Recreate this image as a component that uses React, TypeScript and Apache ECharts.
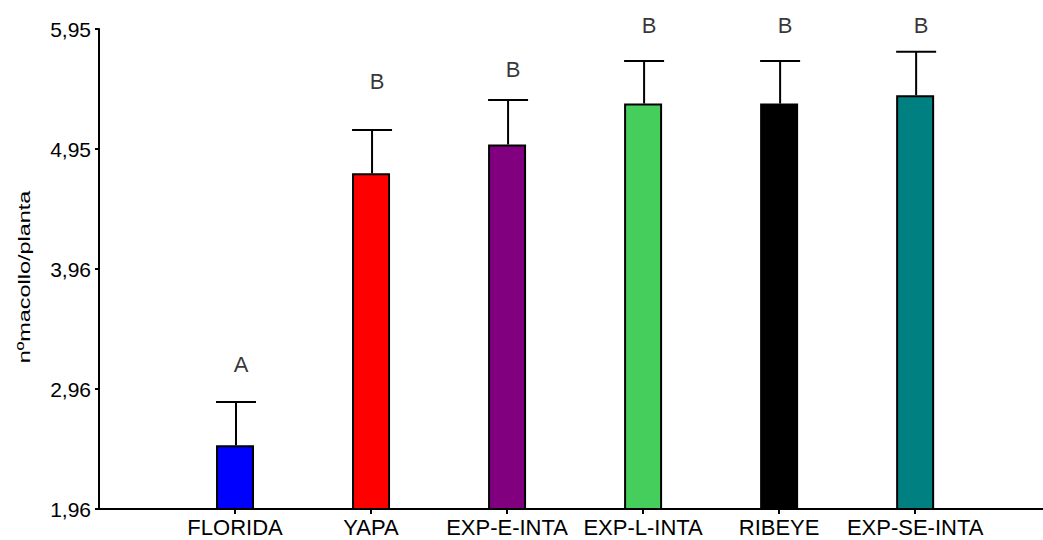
import React, { useEffect, useRef } from "react";
import * as echarts from "echarts";

const categories = ["FLORIDA", "YAPA", "EXP-E-INTA", "EXP-L-INTA", "RIBEYE", "EXP-SE-INTA"];
const means = [2.49, 4.75, 4.99, 5.33, 5.33, 5.40];
const errTops = [2.85, 5.11, 5.36, 5.685, 5.685, 5.76];
const letters = ["A", "B", "B", "B", "B", "B"];
const letterValues = [3.16, 5.51, 5.61, 5.98, 5.98, 5.98];
const barColors = ["#0000FF", "#FF0000", "#800080", "#45CE5B", "#000000", "#008080"];
const yTickValues = [1.96, 2.9575, 3.955, 4.9525, 5.95];
const yTickLabels = ["1,96", "2,96", "3,96", "4,95", "5,95"];
const yTitle = "nºmacollo/planta";
const catPositions = categories.map((_, i) => i + 1);

const FONT = "'Liberation Sans', Arial, sans-serif";

export default function App() {
  const ref = useRef<HTMLDivElement>(null);
  useEffect(() => {
    if (!ref.current) return;
    const chart = echarts.init(ref.current, null, { renderer: "svg" });
    const option: any = {
      animation: false,
      backgroundColor: "#ffffff",
      grid: { left: 99, right: 0, top: 29, bottom: 31, containLabel: false },
      xAxis: {
        type: "value",
        min: 0,
        max: 6.94,
        splitLine: { show: false },
        axisLine: { show: true, onZero: false, lineStyle: { color: "#000", width: 2 } },
        axisTick: { show: true, customValues: catPositions, length: 5, lineStyle: { color: "#000", width: 2 } },
        axisLabel: {
          customValues: catPositions,
          formatter: (v: number) => categories[Math.round(v) - 1] ?? "",
          color: "#000",
          fontSize: 22,
          fontFamily: FONT,
          margin: 7,
        },
      },
      yAxis: {
        type: "value",
        min: 1.96,
        max: 5.95,
        splitLine: { show: false },
        axisLine: { show: true, onZero: false, lineStyle: { color: "#000", width: 2 } },
        axisTick: { show: true, customValues: yTickValues, length: 4, lineStyle: { color: "#000", width: 2 } },
        axisLabel: {
          customValues: yTickValues,
          formatter: (v: number) => {
            let best = 0;
            yTickValues.forEach((t, i) => {
              if (Math.abs(t - v) < Math.abs(yTickValues[best] - v)) best = i;
            });
            return yTickLabels[best];
          },
          color: "#000",
          fontSize: 21,
          fontFamily: FONT,
          margin: 8,
        },
      },
      graphic: [
        {
          type: "text",
          x: 24,
          y: 277,
          rotation: Math.PI / 2,
          scaleX: 1.38,
          style: {
            text: yTitle,
            fontSize: 17,
            fontFamily: FONT,
            fill: "#000",
            textAlign: "center",
            textVerticalAlign: "middle",
          },
        },
      ],
      series: [
        {
          type: "bar",
          barWidth: 38,
          data: categories.map((c, i) => ({
            value: [i + 1, means[i]],
            itemStyle: { color: barColors[i] },
          })),
          itemStyle: { borderColor: "#000", borderWidth: 2 },
          z: 2,
        },
        {
          type: "custom",
          data: categories.map((c, i) => [i + 1, means[i], errTops[i]]),
          renderItem: (params: any, api: any) => {
            const x = api.value(0);
            const p0 = api.coord([x, api.value(1)]);
            const p1 = api.coord([x, api.value(2)]);
            const cx = p0[0] + 1;
            const half = 20;
            const style = { stroke: "#000", lineWidth: 2 };
            return {
              type: "group",
              children: [
                { type: "line", shape: { x1: cx, y1: p0[1], x2: cx, y2: p1[1] }, style },
                { type: "line", shape: { x1: cx - half, y1: p1[1], x2: cx + half, y2: p1[1] }, style },
              ],
            };
          },
          z: 3,
        },
        {
          type: "scatter",
          clip: false,
          symbolSize: 0,
          data: categories.map((c, i) => [i + 1, letterValues[i]]),
          label: {
            show: true,
            position: "inside",
            offset: [6, 0],
            formatter: (p: any) => letters[p.dataIndex],
            fontSize: 22,
            fontFamily: FONT,
            color: "#000",
          },
          z: 4,
        },
      ],
    };
    chart.setOption(option);
    return () => chart.dispose();
  }, []);
  return (
    <div
      ref={ref}
      style={{ position: "fixed", left: 0, top: 0, width: 1043, height: 540, background: "#fff" }}
    />
  );
}
